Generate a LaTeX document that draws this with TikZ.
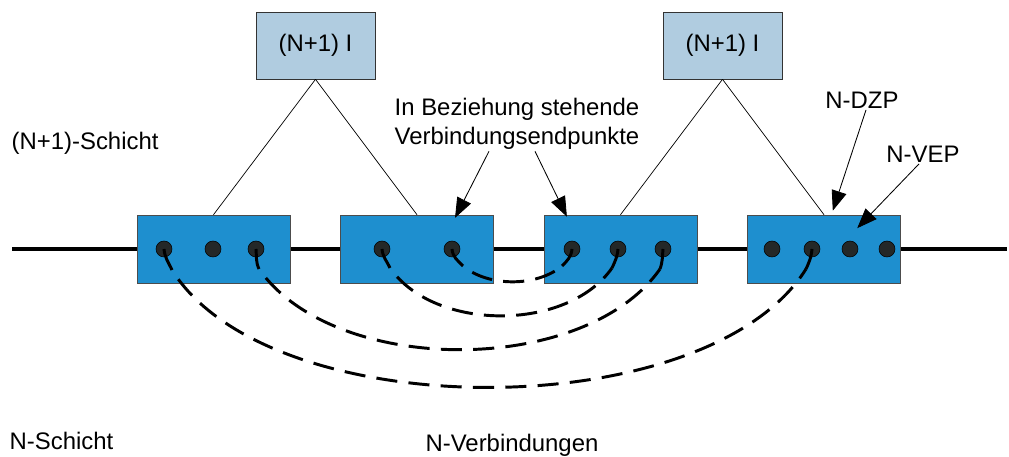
\documentclass[tikz,border=0pt]{standalone}
\usepackage{fontspec}
\setmainfont{Liberation Sans}
\usepackage{tikz}
\usetikzlibrary{positioning,arrows.meta}
\definecolor{entityblue}{RGB}{30,143,207}
\definecolor{instanceblue}{RGB}{176,204,224}
\definecolor{pointgray}{RGB}{36,40,40}
\tikzstyle{entity} = [draw=black!70,fill=entityblue,minimum width=3.825cm,minimum height=1.7cm,inner sep=0pt]
\tikzstyle{instance} = [draw=black!80,fill=instanceblue,minimum width=2.975cm,minimum height=1.675cm,inner sep=0pt]
\tikzstyle{endpoint} = [circle,draw=black,fill=pointgray,minimum size=0.4cm,inner sep=0pt]
\tikzstyle{caption} = [inner sep=1pt,align=center]
\tikzstyle{layerline} = [line width=3.5pt]
\tikzstyle{assoc} = [line width=0.5pt]
\tikzstyle{pointer} = [line width=0.6pt,arrows={-Triangle[length=0.5cm,width=0.38cm]}]
\tikzstyle{stub} = [line width=2.1pt]
\tikzstyle{link} = [line width=2.1pt,dash pattern=on 15pt off 8pt,dash phase=15pt]

\begin{document}
\begin{tikzpicture}[x=0.025cm,y=-0.025cm,font=\fontsize{17}{20.6}\selectfont]
		\useasboundingbox (0,0) rectangle (1009,457);

		\coordinate (west) at (12,249);
		\coordinate (east) at (1007,249);
		\draw[layerline] (west) -- (east);

		\node (e1)[entity] at (213.5,249) {};
		\node (e2)[entity] at (417,249) {};
		\node (e3)[entity] at (620.5,249) {};
		\node (e4)[entity] at (824,249) {};

		\node (d11)[endpoint] at (164,249) {};
		\node (d12)[endpoint] at (213,249) {};
		\node (d13)[endpoint] at (256,249) {};
		\node (d21)[endpoint] at (382,249) {};
		\node (d22)[endpoint] at (452,249) {};
		\node (d31)[endpoint] at (572,249) {};
		\node (d32)[endpoint] at (618,249) {};
		\node (d33)[endpoint] at (663,249) {};
		\node (d41)[endpoint] at (772,249) {};
		\node (d42)[endpoint] at (812,249) {};
		\node (d43)[endpoint] at (850,249) {};
		\node (d44)[endpoint] at (887,249) {};

		\node (i1)[instance] at (315.5,45.5) {(N+1) I};
		\node (i2)[instance] at (722.5,45.5) {(N+1) I};

		\draw[assoc] (i1.south) -- (e1.north);
		\draw[assoc] (i1.south) -- (e2.north);
		\draw[assoc] (i2.south) -- (e3.north);
		\draw[assoc] (i2.south) -- (e4.north);

		\node (upper)[caption,anchor=west] at (10,143) {(N+1)-Schicht};
		\node (lower)[caption,anchor=west] at (8,441) {N-Schicht};
		\node (conn)[caption] at (512,445) {N-Verbindungen};
		\node (bez)[caption] at (517,124) {In Beziehung stehende\\Verbindungsendpunkte};
		\node (dzp)[caption] at (862,100) {N-DZP};
		\node (vep)[caption] at (923,154) {N-VEP};

		\draw[pointer] ([xshift=-0.7cm]bez.south) -- ([xshift=0.95cm,yshift=-0.08cm]e2.north);
		\draw[pointer] ([xshift=0.45cm]bez.south) -- ([xshift=-1.34cm,yshift=-0.05cm]e3.north);
		\draw[pointer] ([xshift=0.1cm]dzp.south) -- ([xshift=0.22cm,yshift=0.1cm]e4.north);
		\draw[pointer] ([xshift=-0.1cm]vep.south) -- ([xshift=0.83cm,yshift=0.52cm]e4.center);

		\coordinate (s11) at (172,270);
		\coordinate (s13) at (259,269);
		\coordinate (s21) at (390,268);
		\coordinate (s22) at (463,266);
		\coordinate (s31) at (562,266);
		\coordinate (s32) at (612,268);
		\coordinate (s33) at (660,269);
		\coordinate (s42) at (806,269);

		\draw[stub] (d11.center) to[out=-85,in=115] (s11);
		\draw[stub] (d13.center) to[out=-85,in=115] (s13);
		\draw[stub] (d21.center) to[out=-85,in=115] (s21);
		\draw[stub] (d22.center) to[out=-85,in=135] (s22);
		\draw[stub] (d31.center) to[out=-95,in=45] (s31);
		\draw[stub] (d32.center) to[out=-95,in=65] (s32);
		\draw[stub] (d33.center) to[out=-95,in=70] (s33);
		\draw[stub] (d42.center) to[out=-95,in=65] (s42);

		\draw[link] (s22) to[out=-40,in=-140,looseness=0.85] (s31);
		\draw[link] (s21) to[out=-55,in=-125,looseness=0.9] (s32);
		\draw[link] (s13) to[out=-55,in=-125,looseness=0.84] (s33);
		\draw[link] (s11) to[out=-58,in=-122,looseness=0.75] (s42);
	\end{tikzpicture}
\end{document}
